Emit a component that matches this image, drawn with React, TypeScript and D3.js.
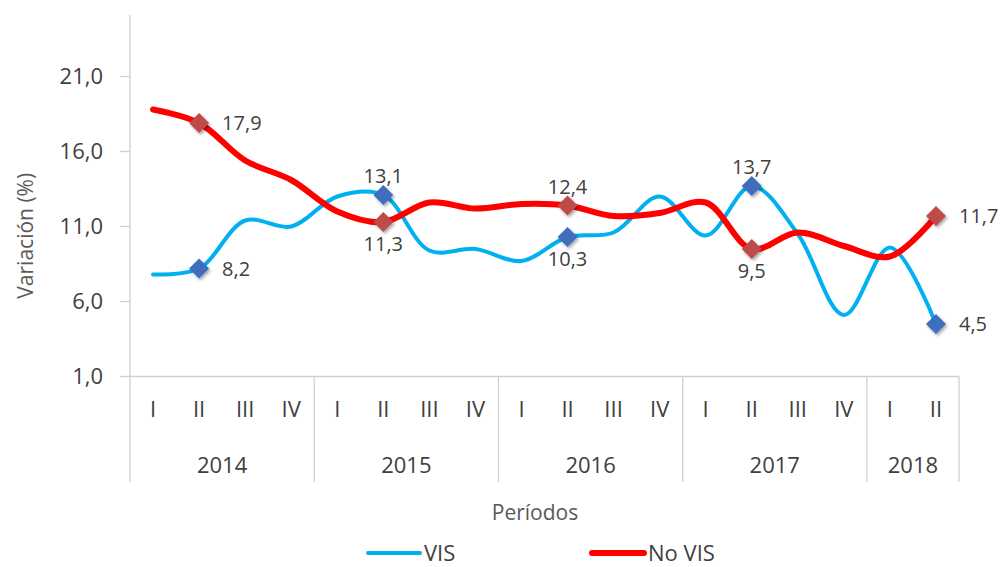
import * as d3 from "d3";

const years = ["2014", "2015", "2016", "2017", "2018"];
const quartersPerYear = [4, 4, 4, 4, 2];
const quarterNames = ["I", "II", "III", "IV"];

// valores por trimestre, 2014-I .. 2018-II
const vis = [7.8, 8.2, 11.4, 11.0, 13.0, 13.1, 9.4, 9.5, 8.7, 10.3, 10.6, 13.0, 10.4, 13.7, 10.5, 5.1, 9.6, 4.5];
const noVis = [18.8, 17.9, 15.4, 14.1, 12.0, 11.3, 12.6, 12.2, 12.5, 12.4, 11.7, 11.9, 12.6, 9.5, 10.6, 9.7, 9.0, 11.7];

const yTicks = [1, 6, 11, 16, 21];
// índices con marcador y etiqueta (trimestre II)
const markedIdx = [1, 5, 9, 13, 17];
const visLabelPos = ["right", "above", "below", "above", "right"];
const noVisLabelPos = ["right", "below", "above", "below", "right"];

const W = 1003;
const H = 567;
const left = 130;
const right = 959;
const top = 15;
const axisY = 376.5;
const bottom = 482;

const FONT = "'Open Sans', 'Segoe UI', sans-serif";
const BLUE = "#00B0F0";
const RED = "#FF0000";
const BLUE_MK = "#3F6EBF";
const RED_MK = "#BE4B48";
const GRID = "#D0D0D0";

const fmt = (v: number) => v.toFixed(1).replace(".", ",");

export default function App() {
  const categories = years.flatMap((y, yi) =>
    d3.range(quartersPerYear[yi]).map((q) => ({ year: y, q: quarterNames[q] }))
  );
  const x = d3.scaleBand<number>().domain(d3.range(categories.length)).range([left, right]).padding(0);
  const cx = (i: number) => (x(i) ?? 0) + x.bandwidth() / 2;
  const y = d3.scaleLinear().domain([1, 25.1]).range([axisY, top]);

  const line = d3
    .line<number>()
    .x((_, i) => cx(i))
    .y((d) => y(d))
    .curve(d3.curveCatmullRom.alpha(0.5));

  // separadores de año
  let acc = 0;
  const yearBlocks = years.map((yr, yi) => {
    const start = acc;
    acc += quartersPerYear[yi];
    return { yr, x0: x(start) ?? 0, x1: (x(acc - 1) ?? 0) + x.bandwidth() };
  });

  const diamond = (px: number, py: number, color: string, key: string) => {
    const r = 10;
    return (
      <path
        key={key}
        d={`M${px},${py - r} L${px + r},${py} L${px},${py + r} L${px - r},${py} Z`}
        fill={color}
        filter="url(#shadow)"
      />
    );
  };

  const label = (i: number, v: number, pos: string, key: string) => {
    const px = cx(i);
    const py = y(v);
    let tx = px;
    let ty = py;
    let anchor: "start" | "middle" = "middle";
    if (pos === "right") {
      tx = px + 23;
      anchor = "start";
    } else if (pos === "above") {
      ty = py - 19;
    } else {
      ty = py + 22;
    }
    return (
      <text key={key} x={tx} y={ty} dy="0.35em" textAnchor={anchor} fontSize={20} fill="#404040">
        {fmt(v)}
      </text>
    );
  };

  return (
    <svg width={W} height={H} style={{ position: "absolute", left: 0, top: 0, background: "#fff" }} fontFamily={FONT}>
      <defs>
        <filter id="shadow" x="-50%" y="-50%" width="200%" height="200%">
          <feDropShadow dx="1.5" dy="2" stdDeviation="1.5" floodColor="#000" floodOpacity="0.35" />
        </filter>
      </defs>

      {/* eje y */}
      <line x1={left} x2={left} y1={top} y2={bottom} stroke={GRID} strokeWidth={1.3} />
      {yTicks.map((t) => (
        <g key={t}>
          <line x1={left - 10} x2={left} y1={y(t)} y2={y(t)} stroke={GRID} strokeWidth={1.3} />
          <text x={103} y={y(t)} dy="0.35em" textAnchor="end" fontSize={22} fill="#404040">
            {fmt(t)}
          </text>
        </g>
      ))}
      <text
        transform={`translate(26,${(top + axisY) / 2 + 40}) rotate(-90)`}
        textAnchor="middle"
        dy="0.35em"
        fontSize={21}
        fill="#595959"
      >
        Variación (%)
      </text>

      {/* eje x */}
      <line x1={left} x2={right} y1={axisY} y2={axisY} stroke={GRID} strokeWidth={1.3} />
      {yearBlocks.map((b) => (
        <g key={b.yr}>
          <line x1={b.x1} x2={b.x1} y1={axisY} y2={bottom} stroke={GRID} strokeWidth={1.3} />
          <text x={(b.x0 + b.x1) / 2} y={465} dy="0.35em" textAnchor="middle" fontSize={22} fill="#404040">
            {b.yr}
          </text>
        </g>
      ))}
      {categories.map((c, i) => (
        <text key={i} x={cx(i)} y={409} dy="0.35em" textAnchor="middle" fontSize={22} fill="#404040">
          {c.q}
        </text>
      ))}
      <text x={535} y={513} dy="0.35em" textAnchor="middle" fontSize={21} fill="#595959">
        Períodos
      </text>

      {/* series */}
      <path d={line(vis) ?? ""} fill="none" stroke={BLUE} strokeWidth={4} strokeLinecap="round" />
      <path d={line(noVis) ?? ""} fill="none" stroke={RED} strokeWidth={6} strokeLinecap="round" />
      {markedIdx.map((i) => diamond(cx(i), y(vis[i]), BLUE_MK, `vm${i}`))}
      {markedIdx.map((i) => diamond(cx(i), y(noVis[i]), RED_MK, `rm${i}`))}
      {markedIdx.map((i, k) => label(i, vis[i], visLabelPos[k], `vl${i}`))}
      {markedIdx.map((i, k) => label(i, noVis[i], noVisLabelPos[k], `rl${i}`))}

      {/* leyenda */}
      <line x1={368} x2={420} y1={553} y2={553} stroke={BLUE} strokeWidth={4} strokeLinecap="round" />
      <text x={424} y={553} dy="0.35em" fontSize={22} fill="#404040">VIS</text>
      <line x1={592} x2={644} y1={553} y2={553} stroke={RED} strokeWidth={6} strokeLinecap="round" />
      <text x={648} y={553} dy="0.35em" fontSize={22} fill="#404040">No VIS</text>
    </svg>
  );
}
